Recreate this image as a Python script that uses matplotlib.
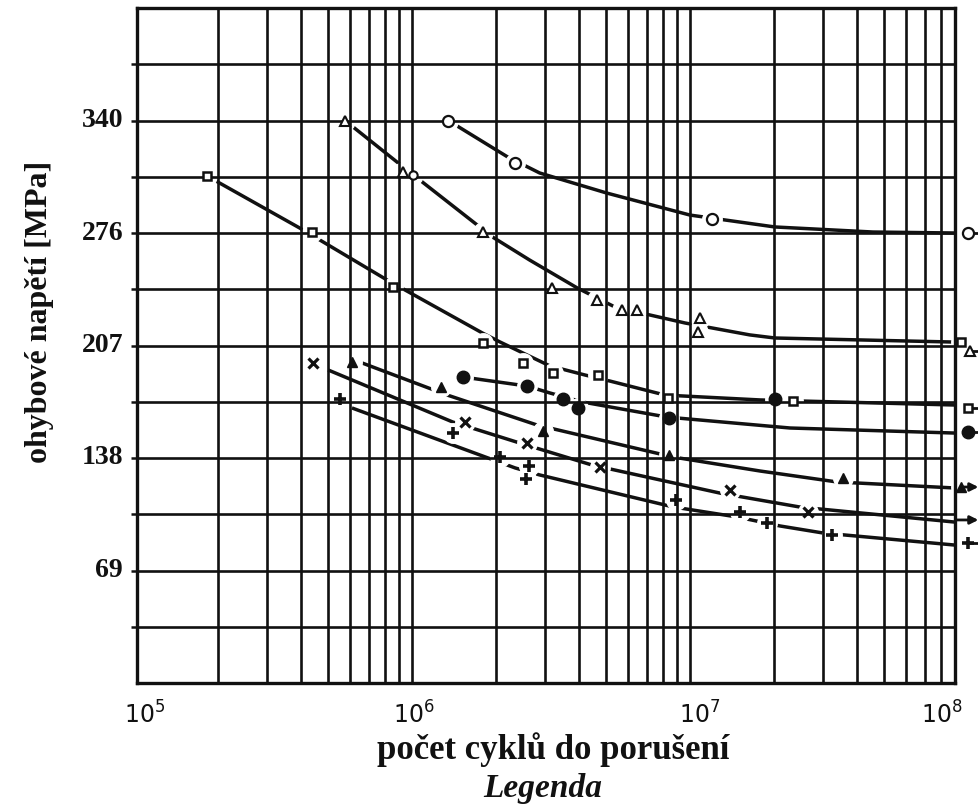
import matplotlib
matplotlib.use("Agg")
import matplotlib.pyplot as plt

# ---------------- data: bending fatigue (S-N) curves ----------------
# Each family: fitted curve (cycles, stress in MPa) and measured points.

# open circles
curve_a_n = [1.35e6, 2.21e6, 2.88e6, 5.02e6, 1.0e7, 2.02e7, 4.55e7, 8.97e7]
curve_a_s = [345.0, 322.6, 312.8, 300.5, 287.0, 279.7, 276.6, 276.0]
pts_a_n = [1.35e6, 2.35e6, 1.20e7, 1.0e8]
pts_a_s = [345.0, 318.9, 284.6, 276.0]
pts_a_small_n = [1.01e6]
pts_a_small_s = [311.6]

# open triangles
curve_b_n = [5.74e5, 9.6e5, 1.95e6, 2.65e6, 3.93e6, 5.37e6, 9.6e6, 1.64e7, 2.02e7, 8.97e7]
curve_b_s = [345.0, 314.6, 273.5, 259.4, 242.3, 230.6, 220.8, 213.5, 211.6, 209.1]
pts_b_n = [5.74e5, 9.29e5, 1.80e6, 3.19e6, 4.62e6, 5.69e6, 6.44e6, 1.09e7, 1.07e7, 1.02e8]
pts_b_s = [345.0, 313.4, 276.6, 242.3, 234.9, 228.8, 228.8, 223.9, 215.3, 203.6]

# open squares
curve_c_n = [1.83e5, 3.95e5, 8.13e5, 1.79e6, 2.07e6, 3.13e6, 4.19e6, 5.15e6, 8.13e6, 1.79e7, 8.97e7]
curve_c_s = [311.0, 279.0, 247.2, 214.7, 209.2, 194.5, 188.9, 185.2, 176.6, 173.6, 170.5]
pts_c_n = [1.83e5, 4.37e5, 8.55e5, 1.80e6, 2.51e6, 3.21e6, 4.67e6, 8.34e6, 2.35e7, 9.4e7, 1.0e8]
pts_c_s = [311.0, 276.6, 242.9, 208.5, 196.3, 190.1, 188.9, 174.8, 172.9, 209.1, 168.7]

# filled circles
curve_d_n = [1.52e6, 2.60e6, 3.13e6, 4.12e6, 8.26e6, 2.29e7, 8.97e7]
curve_d_s = [187.7, 182.1, 177.9, 172.3, 163.1, 156.4, 153.3]
pts_d_n = [1.52e6, 2.60e6, 3.49e6, 3.95e6, 8.40e6, 2.02e7, 1.0e8]
pts_d_s = [187.7, 182.1, 174.2, 168.7, 162.5, 174.2, 153.9]

# filled triangles
curve_e_n = [6.61e5, 1.34e6, 2.82e6, 8.69e6, 1.79e7, 3.38e7, 8.97e7]
curve_e_s = [196.3, 176.6, 158.2, 138.6, 130.0, 123.3, 119.6]
pts_e_n = [6.08e5, 1.27e6, 2.96e6, 8.40e6, 3.55e7, 9.4e7]
pts_e_s = [196.9, 181.5, 154.6, 139.8, 125.7, 120.2]

# crosses
curve_f_n = [4.99e5, 1.40e6, 2.44e6, 4.44e6, 1.28e7, 2.49e7, 8.97e7]
curve_f_s = [192.0, 160.1, 147.2, 133.7, 116.5, 107.9, 98.7]
pts_f_n = [4.41e5, 1.55e6, 2.60e6, 4.74e6, 1.39e7, 2.66e7]
pts_f_s = [196.3, 160.1, 147.2, 132.5, 118.4, 104.9]

# plus signs
curve_g_n = [6.08e5, 2.35e6, 2.88e6, 8.69e6, 1.48e7, 2.11e7, 3.01e7, 8.97e7]
curve_g_s = [168.7, 131.9, 127.6, 108.0, 101.8, 96.3, 92.0, 84.6]
pts_g_n = [5.51e5, 1.40e6, 2.07e6, 2.64e6, 2.57e6, 8.91e6, 1.51e7, 1.89e7, 3.24e7, 1.0e8]
pts_g_s = [174.2, 153.3, 138.6, 133.1, 125.1, 112.2, 104.9, 98.1, 90.8, 85.9]

# run-outs (specimens that did not fail)
runout_stub_s = [276.0, 203.6, 168.7, 153.9, 85.9]
runout_arrow_s = [120.2, 100.0]

# axis settings
n_min, n_max = 1.025e5, 8.98e7
s_min, s_max = 0.0, 414.0
s_grid_step = 34.5
ytick_values = [69, 138, 207, 276, 345]
ytick_labels = ["69", "138", "207", "276", "340"]
xtick_values = [1e5, 1e6, 1e7, 1e8]
xtick_labels = [r"$\mathregular{10^{5}}$", r"$\mathregular{10^{6}}$",
                r"$\mathregular{10^{7}}$", r"$\mathregular{10^{8}}$"]
xtick_nudge_pt = [8, 1, 7, -19]

# ---------------- figure ----------------
W, H = 979, 807
fig = plt.figure(figsize=(W / 100, H / 100), dpi=100)
fig.patch.set_facecolor("white")
ax = fig.add_axes([137 / W, (H - 683) / H, (955 - 137) / W, (683 - 8) / H])
ax.set_xscale("log")
ax.set_xlim(n_min, n_max)
ax.set_ylim(s_min, s_max)

BLACK = "#111111"
GRID_LW = 1.9
CURVE_LW = 2.5

# grid lines (drawn above the marker halos so gaps only cut the curves)
for dec in (1e5, 1e6, 1e7):
    for k in range(1, 10):
        v = k * dec
        if n_min < v < n_max:
            ax.axvline(v, color=BLACK, lw=GRID_LW, zorder=2.5)
k = 1
while k * s_grid_step < s_max - 1:
    ax.axhline(k * s_grid_step, color=BLACK, lw=GRID_LW, zorder=2.5)
    k += 1

for sp in ax.spines.values():
    sp.set_linewidth(2.4)
    sp.set_color(BLACK)
    sp.set_zorder(4)

# curves
curves = [(curve_a_n, curve_a_s), (curve_b_n, curve_b_s), (curve_c_n, curve_c_s),
          (curve_d_n, curve_d_s), (curve_e_n, curve_e_s), (curve_f_n, curve_f_s),
          (curve_g_n, curve_g_s)]
for cn, cs in curves:
    ax.plot(cn, cs, color=BLACK, lw=CURVE_LW, solid_capstyle="butt", zorder=1)

# marker groups: (n, s, marker, size, filled, edge width)
groups = [
    (pts_a_n, pts_a_s, "o", 8.0, False, 1.6),
    (pts_a_small_n, pts_a_small_s, "o", 6.0, False, 1.5),
    (pts_b_n, pts_b_s, "^", 7.0, False, 1.5),
    (pts_c_n, pts_c_s, "s", 6.0, False, 1.8),
    (pts_d_n, pts_d_s, "o", 9.0, True, 1.0),
    (pts_e_n, pts_e_s, "^", 7.0, True, 1.0),
    (pts_f_n, pts_f_s, "x", 7.0, False, 2.3),
    (pts_g_n, pts_g_s, "+", 9.0, False, 2.6),
]

# white halos break the curves around each point
for gn, gs, m, ms, filled, mew in groups:
    ax.plot(gn, gs, ls="none", marker="o", ms=14, mfc="white", mec="white",
            zorder=2, clip_on=False)

# run-out stubs and arrows at the right edge
for s in runout_stub_s:
    ax.plot([1.0e8, 1.12e8], [s, s], color=BLACK, lw=2.0, zorder=2.8, clip_on=False)
for s, start in zip(runout_arrow_s, [9.6e7, 9.0e7]):
    ax.annotate("", xy=(1.09e8, s), xytext=(start, s),
                arrowprops=dict(arrowstyle="-|>", lw=2.0, color=BLACK,
                                mutation_scale=12, shrinkA=0, shrinkB=0),
                annotation_clip=False, zorder=2.8)

for gn, gs, m, ms, filled, mew in groups:
    ax.plot(gn, gs, ls="none", marker=m, ms=ms,
            mfc=BLACK if filled else "white", mec=BLACK, mew=mew,
            zorder=3, clip_on=False)

# ---------------- ticks and labels ----------------
ax.set_xticks([])
ax.xaxis.set_minor_locator(matplotlib.ticker.NullLocator())
ax.set_yticks([k * s_grid_step for k in range(1, 12)])
ax.set_yticklabels([""] * 11)
ax.tick_params(axis="y", direction="out", length=4, width=1.8, color=BLACK, pad=4)

serif = ["Liberation Serif", "DejaVu Serif"]
for v, lab in zip(ytick_values, ytick_labels):
    ax.annotate(lab, xy=(0, v), xycoords=("axes fraction", "data"),
                xytext=(-10, 0), textcoords="offset points",
                ha="right", va="center", fontsize=20, fontweight="bold",
                family=serif, color=BLACK, annotation_clip=False)

for v, lab, nd in zip(xtick_values, xtick_labels, xtick_nudge_pt):
    ax.annotate(lab, xy=(v, 0), xycoords=("data", "axes fraction"),
                xytext=(nd, -23), textcoords="offset points",
                ha="center", va="center", fontsize=17,
                family=["DejaVu Sans"], color=BLACK, annotation_clip=False)

fig.text(40 / W, 1 - 312 / H, "ohybové napětí [MPa]", rotation=90,
         ha="center", va="center", fontsize=23, fontweight="bold",
         family=serif, color=BLACK)
fig.text(553 / W, 1 - 750 / H, "počet cyklů do porušení",
         ha="center", va="center", fontsize=25, fontweight="bold",
         family=serif, color=BLACK)
fig.text(543 / W, 1 - 788 / H, "Legenda",
         ha="center", va="center", fontsize=24, fontweight="bold",
         style="italic", family=serif, color=BLACK)

fig.savefig("out.png", dpi=100, facecolor="white")
